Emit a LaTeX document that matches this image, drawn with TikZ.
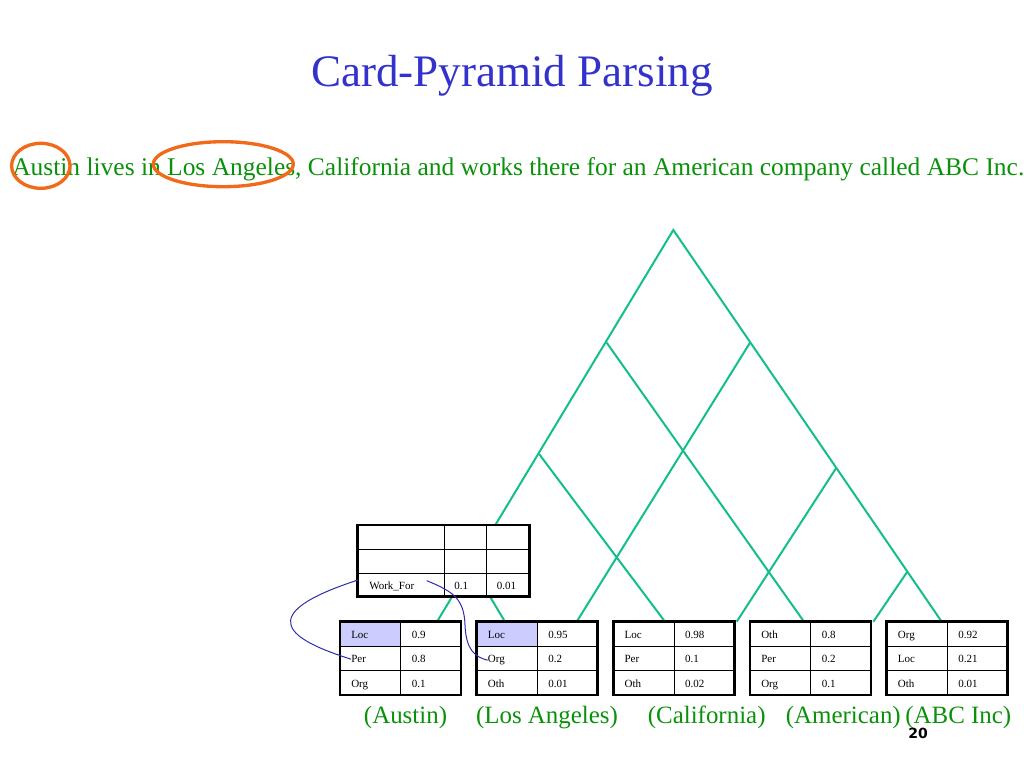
\documentclass[tikz,border=0pt]{standalone}
\usepackage{fontspec}
\setmainfont{Liberation Serif}
\newfontfamily\slidenumfont{DejaVu Sans}
\usepackage{tikz}

\definecolor{titleblue}{RGB}{51,51,204}
\definecolor{textgreen}{RGB}{10,145,10}
\definecolor{pyrgreen}{RGB}{20,190,140}
\definecolor{locfill}{RGB}{204,204,255}
\definecolor{ringorange}{RGB}{242,105,25}
\definecolor{linkblue}{RGB}{45,45,170}

\tikzset{
  pyr/.style={draw=pyrgreen, line width=1.5pt},
  cardframe/.style={draw=black, line width=2.2pt},
  cardgrid/.style={draw=black, line width=0.7pt},
  celltext/.style={anchor=base west, inner sep=0pt, font=\fontsize{8.25pt}{9pt}\selectfont},
  wordlabel/.style={anchor=base, inner sep=0pt, text=textgreen, font=\fontsize{18.7pt}{22pt}\selectfont},
  link/.style={draw=linkblue, line width=0.75pt},
  ringmark/.style={draw=ringorange, line width=2.5pt}
}

\begin{document}
\begin{tikzpicture}[x=0.75pt,y=0.75pt,yscale=-1,xscale=1]
    \useasboundingbox (0,0) rectangle (1024,768);

    % Text Node
    \node [anchor=base, inner sep=0pt, text=titleblue, font=\fontsize{33.8pt}{40pt}\selectfont] (title) at (512,86) {Card-Pyramid Parsing};
    % Text Node
    \node [anchor=base west, inner sep=0pt, text=textgreen, font=\fontsize{19.1pt}{22pt}\selectfont] (sentence) at (12,175) {Austin lives in Los Angeles, California and works there for an American company called ABC Inc.};
    %Shape: Ellipse
    \draw [ringmark] (40.8,165.8) ellipse [x radius=29.2, y radius=22.5];
    \draw [ringmark] (223.3,164.2) ellipse [x radius=70, y radius=22.5];

    % pyramid joints
    \coordinate (apex) at (673.3,230);
    \coordinate (p21) at (606.7,342.7);
    \coordinate (p22) at (750,342.7);
    \coordinate (p31) at (539.3,454.3);
    \coordinate (p33) at (836,468.3);
    \coordinate (p41) at (471,565);
    \coordinate (p44) at (907.3,571.7);
    % feet on the cards
    \foreach \i/\x in {1/437,2/505,3/576.7,4/665,5/736.7,6/804,7/873.3,8/941.7}
      \coordinate (b\i) at (\x,621.7);

    %Straight Lines
    \draw [pyr] (b1) -- (apex) -- (b8);
    \draw [pyr] (p21) -- (b6);
    \draw [pyr] (p22) -- (b3);
    \draw [pyr] (p31) -- (b4);
    \draw [pyr] (p33) -- (b5);
    \draw [pyr] (p41) -- (b2);
    \draw [pyr] (p44) -- (b7);

    % upper card
    \fill [white] (357.7,525) rectangle (529.3,596.7);
    \draw [cardgrid] (444,525) -- (444,596.7) (486.3,525) -- (486.3,596.7) (357.7,549.3) -- (529.3,549.3) (357.7,573.3) -- (529.3,573.3);
    \draw [cardframe] (357.7,525) rectangle (529.3,596.7);
    \node [celltext] (wf) at (369,589) {Work\_For};
    \node [celltext] (wf-v1) at (454,589) {0.1};
    \node [celltext] (wf-v2) at (496.7,589) {0.01};

    % leaf cards
    \fill [locfill] (340,621.7) rectangle (400.7,646.7);
    \fill [locfill] (476.7,621.7) rectangle (537.3,646.7);
    \foreach \nm/\x/\la/\va/\lb/\vb/\lc/\vc in {aus/340/Loc/0.9/Per/0.8/Org/0.1, la/476.7/Loc/0.95/Org/0.2/Oth/0.01, cal/613.3/Loc/0.98/Per/0.1/Oth/0.02, ame/750/Oth/0.8/Per/0.2/Org/0.1, abc/886.7/Org/0.92/Loc/0.21/Oth/0.01}{
      \draw [cardgrid] (\x+60.7,621.7) -- (\x+60.7,695) (\x,646.7) -- (\x+121,646.7) (\x,670.7) -- (\x+121,670.7);
      \draw [cardframe] (\x,621.7) rectangle (\x+121,695);
      \node [celltext] (\nm-l1) at (\x+11,638.5) {\la};
      \node [celltext] (\nm-v1) at (\x+71.5,638.5) {\va};
      \node [celltext] (\nm-l2) at (\x+11,662.7) {\lb};
      \node [celltext] (\nm-v2) at (\x+71.5,662.7) {\vb};
      \node [celltext] (\nm-l3) at (\x+11,687) {\lc};
      \node [celltext] (\nm-v3) at (\x+71.5,687) {\vc};
    }

    % links from Work_For
    \coordinate (wfL) at (358,580);
    \coordinate (wfR) at (426.7,580.7);
    \draw [link] (wfL) .. controls (250,615) and (290,640) .. (aus-l2.west);
    \draw [link] (wfR) .. controls (455,592) and (464,600) .. (465,625) .. controls (466,650) and (475,657) .. (la-l2.west);

    % Text Node
    \node [wordlabel] (lab-aus) at (405.5,723) {(Austin)};
    \node [wordlabel] (lab-la) at (547,723) {(Los Angeles)};
    \node [wordlabel] (lab-cal) at (706.7,723) {(California)};
    \node [wordlabel] (lab-ame) at (843.3,723) {(American)};
    \node [wordlabel] (lab-abc) at (958.3,723) {(ABC Inc)};
    % Text Node
    \node [anchor=base west, inner sep=0pt, font=\slidenumfont\bfseries\fontsize{10.5pt}{12pt}\selectfont] (pagenum) at (908,738) {20};
\end{tikzpicture}
\end{document}
